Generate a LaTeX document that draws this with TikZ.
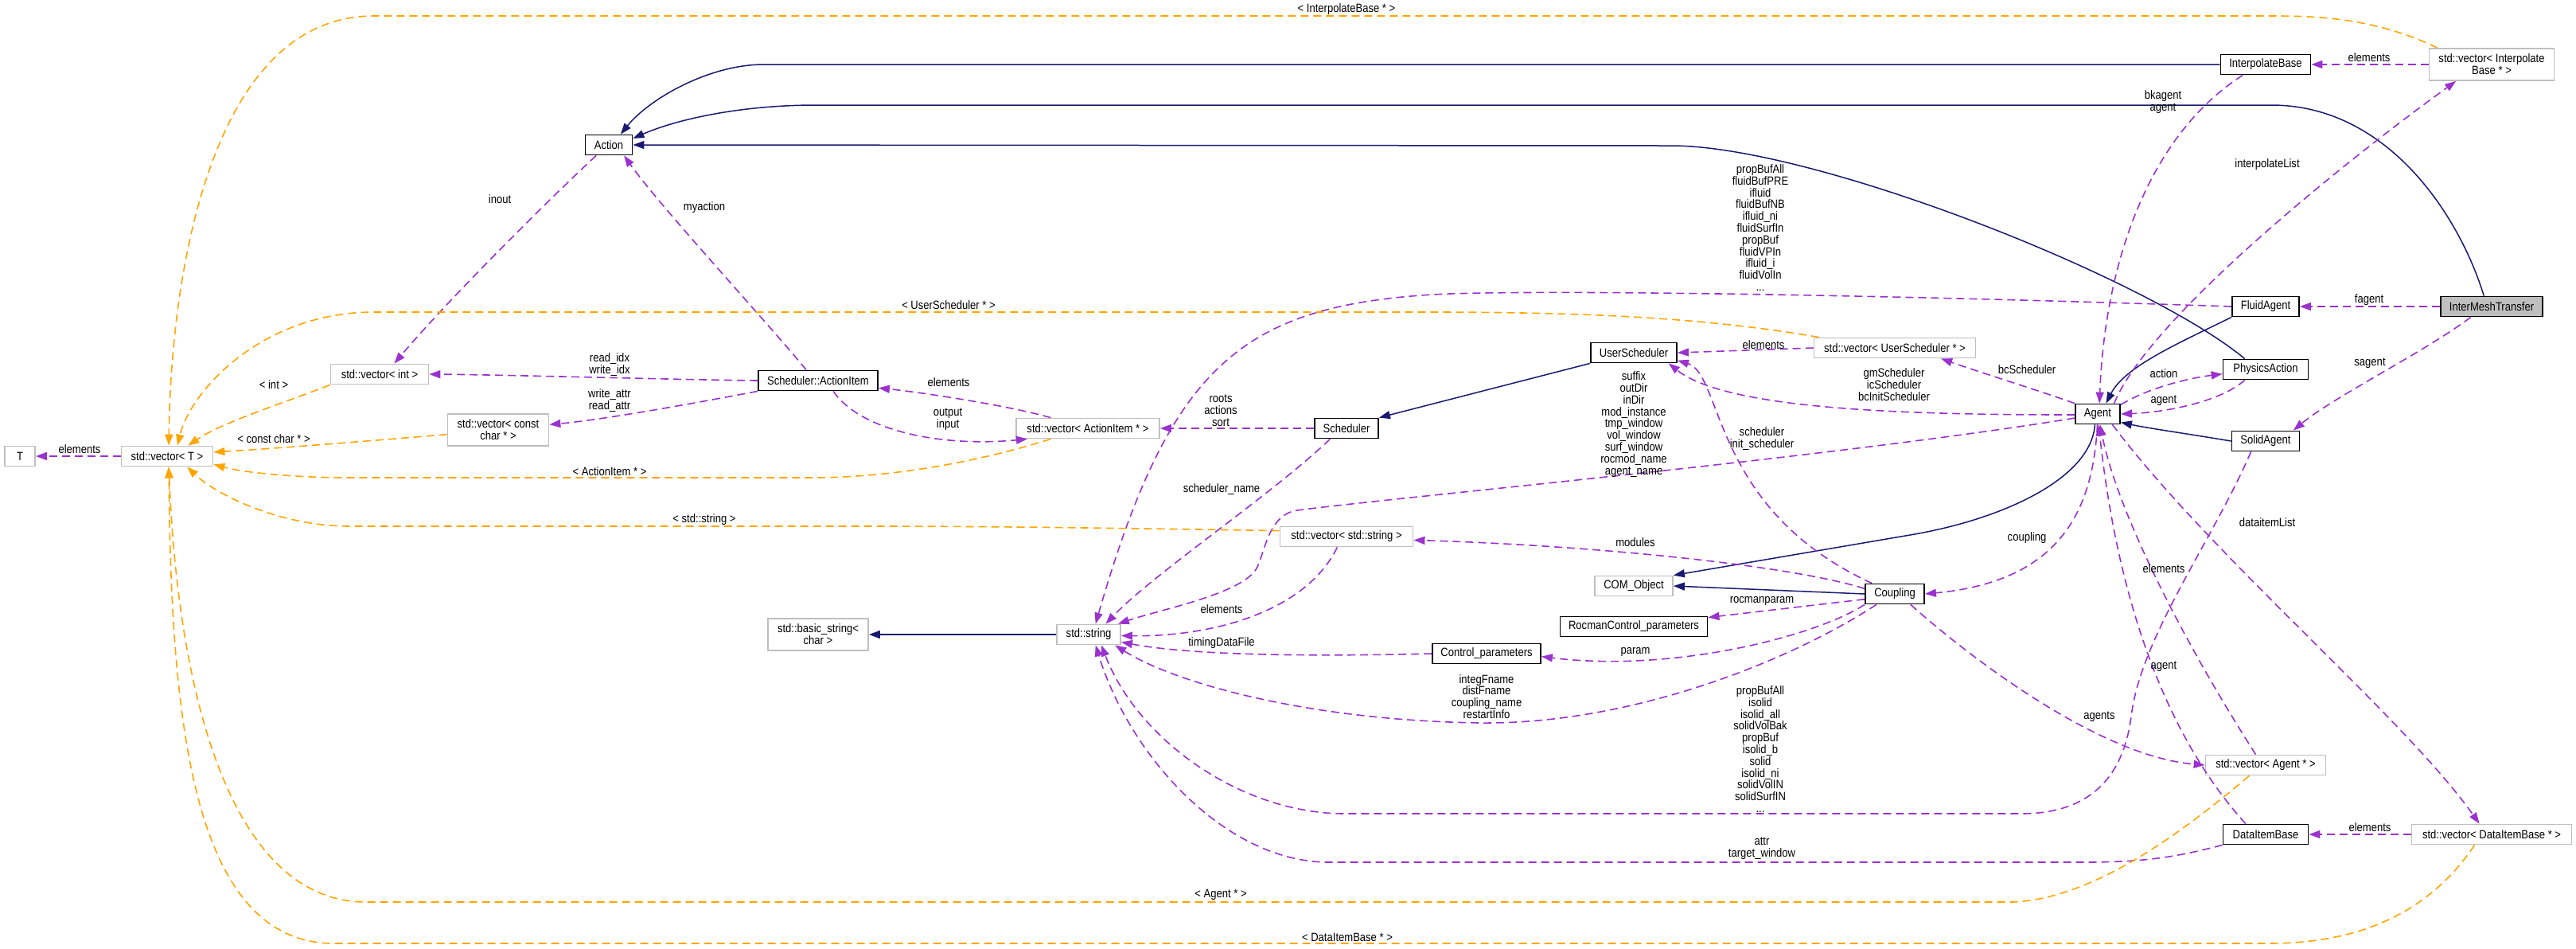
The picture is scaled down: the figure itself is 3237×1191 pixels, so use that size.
\documentclass[tikz,border=0pt]{standalone}
\usepackage{fontspec}
\setmainfont{Liberation Sans}[FakeStretch=0.87]
\usepackage{tikz}
\usetikzlibrary{arrows.meta}
\definecolor{inheritblue}{RGB}{25,25,112}
\definecolor{usagepurple}{RGB}{154,50,205}
\definecolor{templateorange}{RGB}{255,165,0}
\definecolor{boxgrey}{RGB}{191,191,191}
\tikzset{
    class box/.style    = {draw = black, line width = 0.9pt, fill = white, minimum height = 12.5pt, inner sep = 0pt, align = center},
    external box/.style = {draw = boxgrey, line width = 0.9pt, fill = white, minimum height = 12.5pt, inner sep = 0pt, align = center},
    focus box/.style    = {class box, fill = boxgrey},
    inherit/.style      = {draw = inheritblue, line width = 0.75pt, -{Triangle[length = 7pt, width = 5pt]}},
    usage/.style        = {draw = usagepurple, line width = 0.8pt, dash pattern = on 5pt off 3pt, -{Triangle[length = 7pt, width = 5pt]}},
    template/.style     = {draw = templateorange, line width = 0.8pt, dash pattern = on 5pt off 3pt, -{Triangle[length = 7pt, width = 5pt]}},
    edge label/.style   = {inner sep = 0pt, align = center}
}

\begin{document}
\begin{tikzpicture}[x=0.5pt, y=-0.5pt, font=\fontsize{7.5pt}{7.4pt}\selectfont]
		\useasboundingbox (0,0) rectangle (3237,1191);

		\node[class box, minimum width = 29.5pt] (action) at (765,182) {Action};
		\node[class box, minimum width = 56.5pt] (interpbase) at (2847,81) {InterpolateBase};
		\node[external box, minimum width = 78.5pt, minimum height = 20pt] (vecinterp) at (3131,81) {std::vector< Interpolate\\Base * >};
		\node[class box, minimum width = 42pt] (fluidagent) at (2847,385) {FluidAgent};
		\node[focus box, minimum width = 64pt] (intermesh) at (3131,385) {InterMeshTransfer};
		\node[external box, minimum width = 61.5pt] (vecint) at (477,470) {std::vector< int >};
		\node[external box, minimum width = 63.5pt, minimum height = 20pt] (vecconstchar) at (626,540) {std::vector< const\\char * >};
		\node[external box, minimum width = 19pt] (tparam) at (25,573) {T};
		\node[external box, minimum width = 57.5pt] (vect) at (210,573) {std::vector< T >};
		\node[class box, minimum width = 75pt] (actionitem) at (1028,478) {Scheduler::ActionItem};
		\node[external box, minimum width = 90pt] (vecactionitem) at (1367,538) {std::vector< ActionItem * >};
		\node[external box, minimum width = 63pt, minimum height = 20pt] (basicstring) at (1028,797) {std::basic\_string<\\char >};
		\node[external box, minimum width = 40pt] (stdstring) at (1368,797) {std::string};
		\node[class box, minimum width = 54pt] (userscheduler) at (2053,443) {UserScheduler};
		\node[external box, minimum width = 101.5pt] (vecuserscheduler) at (2381,437) {std::vector< UserScheduler * >};
		\node[class box, minimum width = 40pt] (scheduler) at (1692,538) {Scheduler};
		\node[external box, minimum width = 83.5pt] (vecstring) at (1692,674) {std::vector< std::string >};
		\node[external box, minimum width = 49pt] (comobject) at (2053,736) {COM\_Object};
		\node[class box, minimum width = 37pt] (coupling) at (2381,746) {Coupling};
		\node[class box, minimum width = 92.5pt] (rocmanparams) at (2053,787) {RocmanControl\_parameters};
		\node[class box, minimum width = 68pt] (controlparams) at (1868,821) {Control\_parameters};
		\node[class box, minimum width = 28pt] (agent) at (2636,520) {Agent};
		\node[class box, minimum width = 53.5pt] (physicsaction) at (2847,464) {PhysicsAction};
		\node[class box, minimum width = 42.5pt] (solidagent) at (2847,554) {SolidAgent};
		\node[external box, minimum width = 75.5pt] (vecagent) at (2847,961) {std::vector< Agent * >};
		\node[class box, minimum width = 53.5pt] (dataitembase) at (2847,1048) {DataItemBase};
		\node[external box, minimum width = 100.5pt] (vecdataitem) at (3131,1048) {std::vector< DataItemBase * >};

		\draw[inherit] (interpbase.west) -- (960,81) .. controls (890,81) and (815,125) .. (action.42);
		\draw[inherit] (intermesh.126) .. controls (3090,270) and (3000,132) .. (2854,132) -- (1025,132) .. controls (930,132) and (850,150) .. (action.15);
		\draw[inherit] (physicsaction.153) .. controls (2700,350) and (2280,183) .. (2100,183) -- (action.east);
		\draw[inherit] (fluidagent.south west) .. controls (2740,430) and (2670,460) .. (agent.52);
		\draw[inherit] (solidagent.west) .. controls (2750,545) and (2700,538) .. (agent.-20);
		\draw[inherit] (agent.255) .. controls (2628,600) and (2519,652) .. (2400,672) -- (comobject.north east);
		\draw[inherit] (coupling.west) -- (comobject.east);
		\draw[inherit] (userscheduler.south west) -- (scheduler.north east);
		\draw[inherit] (stdstring.west) -- (basicstring.east);

		\draw[usage] (actionitem.138) .. controls (960,400) and (830,260) .. (action.-35);
		\draw[usage] (action.220) .. controls (680,260) and (560,380) .. (vecint.36);
		\draw[usage] (actionitem.west) .. controls (850,477) and (650,471) .. (vecint.east);
		\draw[usage] (actionitem.south west) .. controls (880,505) and (760,527) .. (vecconstchar.6);
		\draw[usage] (vecactionitem.164) .. controls (1270,510) and (1160,493) .. (actionitem.-7);
		\draw[usage] (actionitem.-35) .. controls (1080,540) and (1180,562) .. (vecactionitem.190);
		\draw[usage] (scheduler.west) -- (vecactionitem.east);
		\draw[usage] (scheduler.213) .. controls (1600,620) and (1450,720) .. (stdstring.32);
		\draw[usage] (fluidagent.west) .. controls (2300,368) and (1900,364) .. (1800,370) .. controls (1560,385) and (1470,460) .. (stdstring.57);
		\draw[usage] (agent.190) .. controls (2300,575) and (1750,625) .. (1630,641) .. controls (1595,646) and (1590,690) .. (1580,712) .. controls (1565,745) and (1460,765) .. (stdstring.20);
		\draw[usage] (agent.182) .. controls (2400,521) and (2170,515) .. (userscheduler.-17);
		\draw[usage] (coupling.155) .. controls (2150,640) and (2165,470) .. (userscheduler.-10);
		\draw[usage] (vecuserscheduler.west) -- (userscheduler.east);
		\draw[usage] (agent.north west) .. controls (2560,490) and (2480,465) .. (vecuserscheduler.-13);
		\draw[usage] (agent.22) .. controls (2700,487) and (2750,475) .. (physicsaction.186);
		\draw[usage] (physicsaction.207) .. controls (2790,505) and (2720,518) .. (agent.east);
		\draw[usage] (intermesh.west) -- (fluidagent.east);
		\draw[usage] (intermesh.207) .. controls (3050,440) and (2930,500) .. (solidagent.21);
		\draw[usage] (interpbase.205) .. controls (2700,170) and (2645,330) .. (agent.81);
		\draw[usage] (agent.33) .. controls (2700,400) and (2950,200) .. (vecinterp.205);
		\draw[usage] (vecinterp.west) -- (interpbase.east);
		\draw[usage] (agent.268) .. controls (2630,640) and (2590,730) .. (coupling.east);
		\draw[usage] (coupling.170) .. controls (2250,710) and (2000,685) .. (vecstring.-3);
		\draw[usage] (coupling.190) -- (rocmanparams.7);
		\draw[usage] (coupling.south west) .. controls (2280,800) and (2100,845) .. (controlparams.-3);
		\draw[usage] (controlparams.west) .. controls (1600,826) and (1480,820) .. (stdstring.-13);
		\draw[usage] (vecstring.229) .. controls (1640,770) and (1520,800) .. (stdstring.-2);
		\draw[usage] (coupling.210) .. controls (2250,830) and (2050,910) .. (1860,908) .. controls (1650,905) and (1480,860) .. (stdstring.-22);
		\draw[usage] (solidagent.216) .. controls (2780,680) and (2690,800) .. (2678,900) .. controls (2665,1000) and (2600,1022) .. (2540,1022) -- (1690,1022) .. controls (1560,1022) and (1430,930) .. (stdstring.-40);
		\draw[usage] (dataitembase.south west) .. controls (2740,1075) and (2700,1083) .. (2620,1083) -- (1670,1083) .. controls (1540,1083) and (1420,950) .. (stdstring.-57);
		\draw[usage] (dataitembase.152) .. controls (2700,900) and (2655,700) .. (agent.-85);
		\draw[usage] (vecagent.133) .. controls (2740,800) and (2660,640) .. (agent.-78);
		\draw[usage] (coupling.-34) .. controls (2480,830) and (2640,950) .. (vecagent.west);
		\draw[usage] (agent.-36) .. controls (2780,700) and (3020,900) .. (vecdataitem.139);
		\draw[usage] (vecdataitem.west) -- (dataitembase.east);
		\draw[usage] (vect.west) -- (tparam.east);

		\draw[template] (vecinterp.163) .. controls (2990,25) and (2920,20) .. (2860,20) -- (470,20) .. controls (270,20) and (215,330) .. (vect.81);
		\draw[template] (vecuserscheduler.172) .. controls (2150,400) and (2000,392) .. (1800,392) -- (470,392) .. controls (330,392) and (240,490) .. (vect.46);
		\draw[template] (vecint.south west) .. controls (360,505) and (280,530) .. (vect.27);
		\draw[template] (vecconstchar.185) .. controls (450,555) and (350,563) .. (vect.5);
		\draw[template] (vecactionitem.196) .. controls (1230,580) and (1120,600) .. (1020,600) -- (440,600) .. controls (360,600) and (300,592) .. (vect.-10);
		\draw[template] (vecstring.175) .. controls (1450,664) and (1250,661) .. (1100,661) -- (440,661) .. controls (350,661) and (270,620) .. (vect.-28);
		\draw[template] (vecagent.213) .. controls (2760,1030) and (2640,1128) .. (2530,1133) -- (460,1133) .. controls (300,1133) and (225,900) .. (vect.-81);
		\draw[template] (vecdataitem.212) .. controls (3050,1150) and (2960,1185) .. (2850,1185) -- (420,1185) .. controls (240,1185) and (215,900) .. (vect.-81);

		\node[edge label] (l-interpvec) at (1692,12) {< InterpolateBase * >};
		\node[edge label] (l-inout) at (628,250) {inout};
		\node[edge label] (l-myaction) at (885,261) {myaction};
		\node[edge label] (l-usched) at (1192,383) {< UserScheduler * >};
		\node[edge label] (l-fluid) at (2212,286) {propBufAll\\fluidBufPRE\\ifluid\\fluidBufNB\\ifluid\_ni\\fluidSurfIn\\propBuf\\fluidVPIn\\ifluid\_i\\fluidVolIn\\...};
		\node[edge label] (l-bkagent) at (2718,128) {bkagent\\agent};
		\node[edge label] (l-interpelem) at (2977,72) {elements};
		\node[edge label] (l-interplist) at (2849,207) {interpolateList};
		\node[edge label] (l-fagent) at (2977,377) {fagent};
		\node[edge label] (l-int) at (344,483) {< int >};
		\node[edge label] (l-idx) at (766,458) {read\_idx\\write\_idx};
		\node[edge label] (l-attr) at (766,503) {write\_attr\\read\_attr};
		\node[edge label] (l-cchar) at (344,551) {< const char * >};
		\node[edge label] (l-telem) at (100,564) {elements};
		\node[edge label] (l-actitem) at (766,592) {< ActionItem * >};
		\node[edge label] (l-aielem) at (1192,480) {elements};
		\node[edge label] (l-output) at (1191,527) {output\\input};
		\node[edge label] (l-roots) at (1534,516) {roots\\actions\\sort};
		\node[edge label] (l-schedname) at (1535,615) {scheduler\_name};
		\node[edge label] (l-strtmpl) at (885,653) {< std::string >};
		\node[edge label] (l-strelem) at (1535,765) {elements};
		\node[edge label] (l-timing) at (1535,808) {timingDataFile};
		\node[edge label] (l-uselem) at (2216,433) {elements};
		\node[edge label] (l-sched) at (2380,483) {gmScheduler\\icScheduler\\bcInitScheduler};
		\node[edge label] (l-suffix) at (2053,533) {suffix\\outDir\\inDir\\mod\_instance\\tmp\_window\\vol\_window\\surf\_window\\rocmod\_name\\agent\_name};
		\node[edge label] (l-initsched) at (2214,551) {scheduler\\init\_scheduler};
		\node[edge label] (l-modules) at (2055,681) {modules};
		\node[edge label] (l-rocman) at (2214,755) {rocmanparam};
		\node[edge label] (l-param) at (2055,819) {param};
		\node[edge label] (l-integ) at (1868,875) {integFname\\distFname\\coupling\_name\\restartInfo};
		\node[edge label] (l-solid) at (2212,941) {propBufAll\\isolid\\isolid\_all\\solidVolBak\\propBuf\\isolid\_b\\solid\\isolid\_ni\\solidVolIN\\solidSurfIN\\...};
		\node[edge label] (l-target) at (2214,1066) {attr\\target\_window};
		\node[edge label] (l-agenttmpl) at (1534,1124) {< Agent * >};
		\node[edge label] (l-ditmpl) at (1693,1177) {< DataItemBase * >};
		\node[edge label] (l-bcsched) at (2547,464) {bcScheduler};
		\node[edge label] (l-action) at (2719,469) {action};
		\node[edge label] (l-paagent) at (2719,503) {agent};
		\node[edge label] (l-sagent) at (2978,456) {sagent};
		\node[edge label] (l-dilist) at (2849,656) {dataitemList};
		\node[edge label] (l-coupling) at (2547,676) {coupling};
		\node[edge label] (l-agelem) at (2719,714) {elements};
		\node[edge label] (l-diagent) at (2719,837) {agent};
		\node[edge label] (l-agents) at (2638,900) {agents};
		\node[edge label] (l-dielem) at (2978,1039) {elements};
\end{tikzpicture}
\end{document}
